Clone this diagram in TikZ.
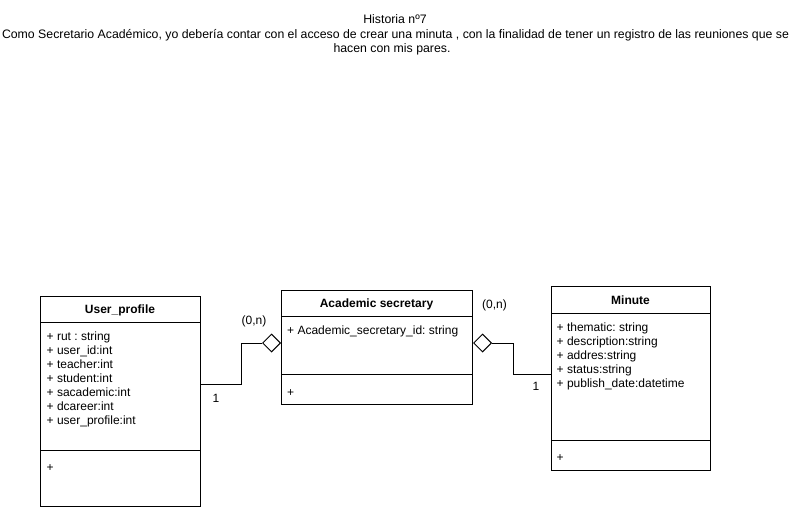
\documentclass[tikz,border=0pt]{standalone}
\usepackage{fontspec}
\setmainfont{Liberation Sans}
\usetikzlibrary{calc,shapes.geometric}
\begin{document}
\begin{tikzpicture}[x=1pt,y=-1pt,
  every node/.style={font=\fontsize{12}{14}\selectfont\frenchspacing},
  titletext/.style={font=\fontsize{12.3}{14}\selectfont\frenchspacing},
  umlbox/.style={draw=black,line width=1pt,fill=white,anchor=north west,inner sep=0pt},
  umltitle/.style={font=\fontsize{12}{14}\selectfont\bfseries,anchor=base,inner sep=0pt},
  attr/.style={anchor=base west,inner sep=0pt},
  lbl/.style={anchor=base,inner sep=0pt},
  conn/.style={draw=black,line width=1pt},
  aggr/.style={diamond,draw=black,line width=1pt,fill=white,minimum width=18pt,minimum height=18pt,inner sep=0pt}
]
\useasboundingbox (0,0) rectangle (791,510);
\fill[white] (0,0) rectangle (791,510);

% title
\node[lbl,titletext] (t1) at (395,24) {Historia nº7};
\node[lbl,titletext] (t2) at (395.5,38.3) {Como Secretario Académico, yo debería contar con el acceso de crear una minuta , con la finalidad de tener un registro de las reuniones que se};
\node[lbl,titletext] (t3) at (392,52.6) {hacen con mis pares.};

% User_profile
\node[umlbox,minimum width=160pt,minimum height=210pt] (up) at (40,296) {};
\draw[line width=1pt] ($(up.north west)+(0,26)$) -- ($(up.north east)+(0,26)$);
\draw[line width=1pt] ($(up.north west)+(0,154)$) -- ($(up.north east)+(0,154)$);
\node[umltitle] (upt) at (120,313.5) {User\_profile};
\node[attr] (upa1) at (46.5,340.5) {+ rut : string};
\node[attr] (upa2) at (46.5,354.5) {+ user\_id:int};
\node[attr] (upa3) at (46.5,368.5) {+ teacher:int};
\node[attr] (upa4) at (46.5,382.5) {+ student:int};
\node[attr] (upa5) at (46.5,396.5) {+ sacademic:int};
\node[attr] (upa6) at (46.5,410.5) {+ dcareer:int};
\node[attr] (upa7) at (46.5,424.5) {+ user\_profile:int};
\node[attr] (upm) at (46.5,471.5) {+};

% Academic secretary
\node[umlbox,minimum width=191pt,minimum height=114pt] (as) at (281,290) {};
\draw[line width=1pt] ($(as.north west)+(0,26)$) -- ($(as.north east)+(0,26)$);
\draw[line width=1pt] ($(as.north west)+(0,84)$) -- ($(as.north east)+(0,84)$);
\node[umltitle] (ast) at (376.5,307.5) {Academic secretary};
\node[attr] (asa1) at (287,334.5) {+ Academic\_secretary\_id: string};
\node[attr] (asm) at (287,396) {+};

% Minute
\node[umlbox,minimum width=159pt,minimum height=184pt] (mi) at (551,286) {};
\draw[line width=1pt] ($(mi.north west)+(0,27)$) -- ($(mi.north east)+(0,27)$);
\draw[line width=1pt] ($(mi.north west)+(0,154)$) -- ($(mi.north east)+(0,154)$);
\node[umltitle] (mit) at (630.5,304.5) {Minute};
\node[attr] (mia1) at (556.5,331) {+ thematic: string};
\node[attr] (mia2) at (556.5,345) {+ description:string};
\node[attr] (mia3) at (556.5,359) {+ addres:string};
\node[attr] (mia4) at (556.5,373) {+ status:string};
\node[attr] (mia5) at (556.5,387) {+ publish\_date:datetime};
\node[attr] (mim) at (556.5,461) {+};

% aggregation diamonds
\node[aggr,anchor=east] (d1) at ($(as.north west)+(0,53)$) {};
\node[aggr,anchor=west] (d2) at ($(as.north east)+(0,53)$) {};

% connectors
\coordinate (p1) at ($(up.north east)+(0,88)$);
\coordinate (p2) at ($(mi.north west)+(0,88)$);
\draw[conn] (p1) -- ++(40.5,0) |- (d1.west);
\draw[conn] (d2.east) -- ++(21,0) |- (p2);

% multiplicities
\node[lbl] (m1) at (216,402.5) {1};
\node[lbl] (m2) at (254,324.5) {(0,n)};
\node[lbl] (m3) at (536,390) {1};
\node[lbl] (m4) at (494.5,308) {(0,n)};
\end{tikzpicture}
\end{document}
